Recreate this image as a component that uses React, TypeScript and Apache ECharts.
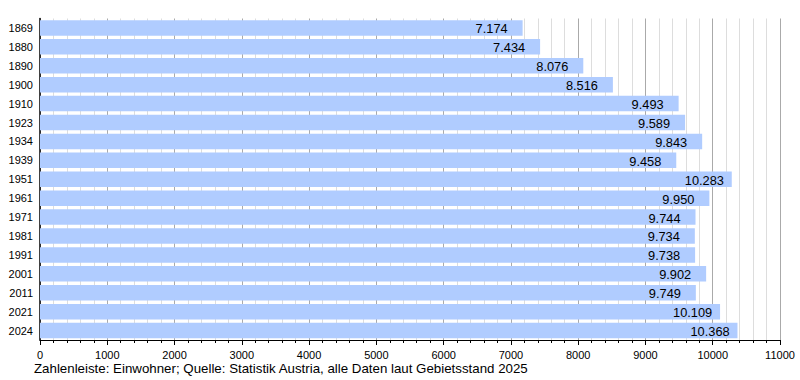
import React, { useEffect, useRef } from "react";
import * as echarts from "echarts";

const years = ["1869", "1880", "1890", "1900", "1910", "1923", "1934", "1939", "1951", "1961", "1971", "1981", "1991", "2001", "2011", "2021", "2024"];
const population = [7174, 7434, 8076, 8516, 9493, 9589, 9843, 9458, 10283, 9950, 9744, 9734, 9738, 9902, 9749, 10109, 10368];
const footer = "Zahlenleiste: Einwohner; Quelle: Statistik Austria, alle Daten laut Gebietsstand 2025";

const FONT = "'Liberation Sans', Arial, sans-serif";

function fmt(v: number): string {
  const t = Math.floor(v / 1000);
  const r = v % 1000;
  return t > 0 ? `${t}.${String(r).padStart(3, "0")}` : String(r);
}

export default function App() {
  const ref = useRef<HTMLDivElement>(null);
  useEffect(() => {
    document.body.style.margin = "0";
    const chart = echarts.init(ref.current!, null, { renderer: "svg" });
    chart.setOption({
      animation: false,
      backgroundColor: "#ffffff",
      textStyle: { fontFamily: FONT },
      grid: { left: 40, right: 20, top: 18.5, bottom: 40, containLabel: false },
      xAxis: {
        type: "value",
        min: 0,
        max: 11000,
        interval: 1000,
        axisLine: { show: true, lineStyle: { color: "#000", width: 1 } },
        axisTick: { show: true, length: 5, lineStyle: { color: "#000" } },
        minorTick: { show: true, splitNumber: 5, length: 3, lineStyle: { color: "#000" } },
        splitLine: { show: true, lineStyle: { color: "#aaaaaa", width: 1 } },
        minorSplitLine: { show: true, lineStyle: { color: "#dddddd", width: 1 } },
        axisLabel: { color: "#000", fontSize: 11, fontFamily: FONT, margin: 9, formatter: (v: number) => String(v) },
      },
      yAxis: {
        type: "category",
        data: years,
        inverse: true,
        axisLine: { show: true, lineStyle: { color: "#000", width: 1.5 } },
        axisTick: { show: false },
        axisLabel: { color: "#000", fontSize: 11, fontFamily: FONT, margin: 7 },
        splitLine: { show: false },
      },
      series: [
        {
          type: "bar",
          data: population,
          barWidth: 15.5,
          itemStyle: { color: "#b0ccff" },
          label: {
            show: true,
            position: ["100%", "50%"],
            align: "left",
            verticalAlign: "middle",
            offset: [-47, 1],
            color: "#000",
            fontSize: 12.8,
            fontFamily: FONT,
            formatter: (p: any) => fmt(p.value),
          },
          z: 3,
        },
      ],
      graphic: [
        {
          type: "text",
          left: 34,
          top: 362,
          style: { text: footer, fill: "#000", font: `13.3px ${FONT}` },
        },
      ],
    });
    return () => chart.dispose();
  }, []);
  return <div ref={ref} style={{ width: 800, height: 380 }} />;
}
